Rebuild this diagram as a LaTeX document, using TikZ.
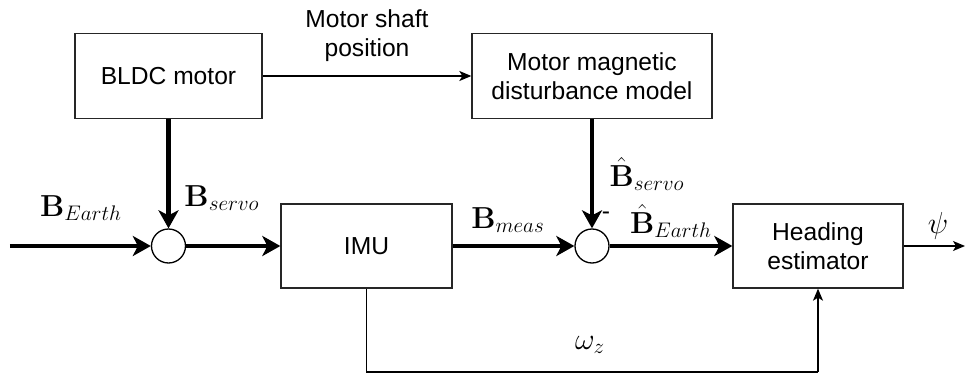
\documentclass[tikz,border=0pt]{standalone}
\usepackage{amsmath}
\usepackage{bm}
\usepackage[no-math]{fontspec}
\setmainfont{Liberation Sans}
\usetikzlibrary{arrows.meta}

\begin{document}
\begin{tikzpicture}[
  x=1cm, y=1cm,
  every node/.style={font=\fontsize{14}{16.5}\selectfont},
  blk/.style={draw=black!85, line width=0.75pt, minimum height=1.7cm, align=center, inner sep=2pt},
  sumj/.style={circle, draw=black, line width=0.75pt, minimum size=0.68cm, inner sep=0pt},
  mlbl/.style={font=\fontsize{17.5}{20}\selectfont, inner sep=0pt},
  fk/.style={-{Stealth[length=0.36cm, width=0.4cm, inset=0.1cm]}, line width=2.5pt},
  ff/.style={-{Stealth[length=0.24cm, width=0.2cm, inset=0.06cm]}, line width=0.75pt},
  fn/.style={line width=0.75pt}
]
\useasboundingbox (0,0) rectangle (19.3,7.52);

\node[blk, minimum width=3.74cm] (bldc) at (3.37,6.0)  {BLDC motor};
\node[blk, minimum width=4.80cm] (mdm)  at (11.84,6.0) {Motor magnetic\\disturbance model};
\node[blk, minimum width=3.42cm, minimum height=1.68cm] (imu) at (7.33,2.6)  {IMU};
\node[blk, minimum width=3.40cm, minimum height=1.68cm] (hest) at (16.36,2.6) {Heading\\estimator};

\node[sumj] (s1) at (3.37,2.6)  {};
\node[sumj] (s2) at (11.84,2.6) {};

\coordinate (bin)  at (0.2,2.6);
\coordinate (pout) at (19.3,2.6);
\coordinate (fb1)  at (7.33,0.08);
\coordinate (fb2)  at (16.36,0.08);

\draw[ff] (bldc) -- (mdm);
\draw[fk] (bin) -- (s1.west);
\draw[fk] (bldc) -- (s1.north);
\draw[fk] (s1.east) -- (imu.west);
\draw[fk] (imu.east) -- (s2.west);
\draw[fk] (mdm) -- (s2.north);
\draw[fk] (s2.east) -- (hest.west);
\draw[ff] (hest.east) -- (pout);
\draw[fn] (imu.south) -- (fb1) -- (fb2);
\draw[ff] (fb2) -- (hest.south);

\node[align=center] (lshaft) at (7.34,6.8) {Motor shaft\\position};
\node[mlbl] (lbe)  at (1.62,3.36)  {$\mathbf{B}_{Earth}$};
\node[mlbl] (lbs)  at (4.44,3.56)  {$\mathbf{B}_{servo}$};
\node[mlbl] (lbm)  at (10.16,3.12) {$\mathbf{B}_{meas}$};
\node[mlbl] (lhbs) at (12.94,4.04) {$\hat{\mathbf{B}}_{servo}$};
\node[mlbl] (lhbe) at (13.42,3.1) {$\hat{\mathbf{B}}_{Earth}$};
\node[mlbl] (lpsi) at (18.76,3.0)  {$\psi$};
\node[mlbl] (lomg) at (11.8,0.62)  {$\omega_z$};
\node[inner sep=0pt] (lmin) at (12.12,3.2) {-};

\end{tikzpicture}
\end{document}
